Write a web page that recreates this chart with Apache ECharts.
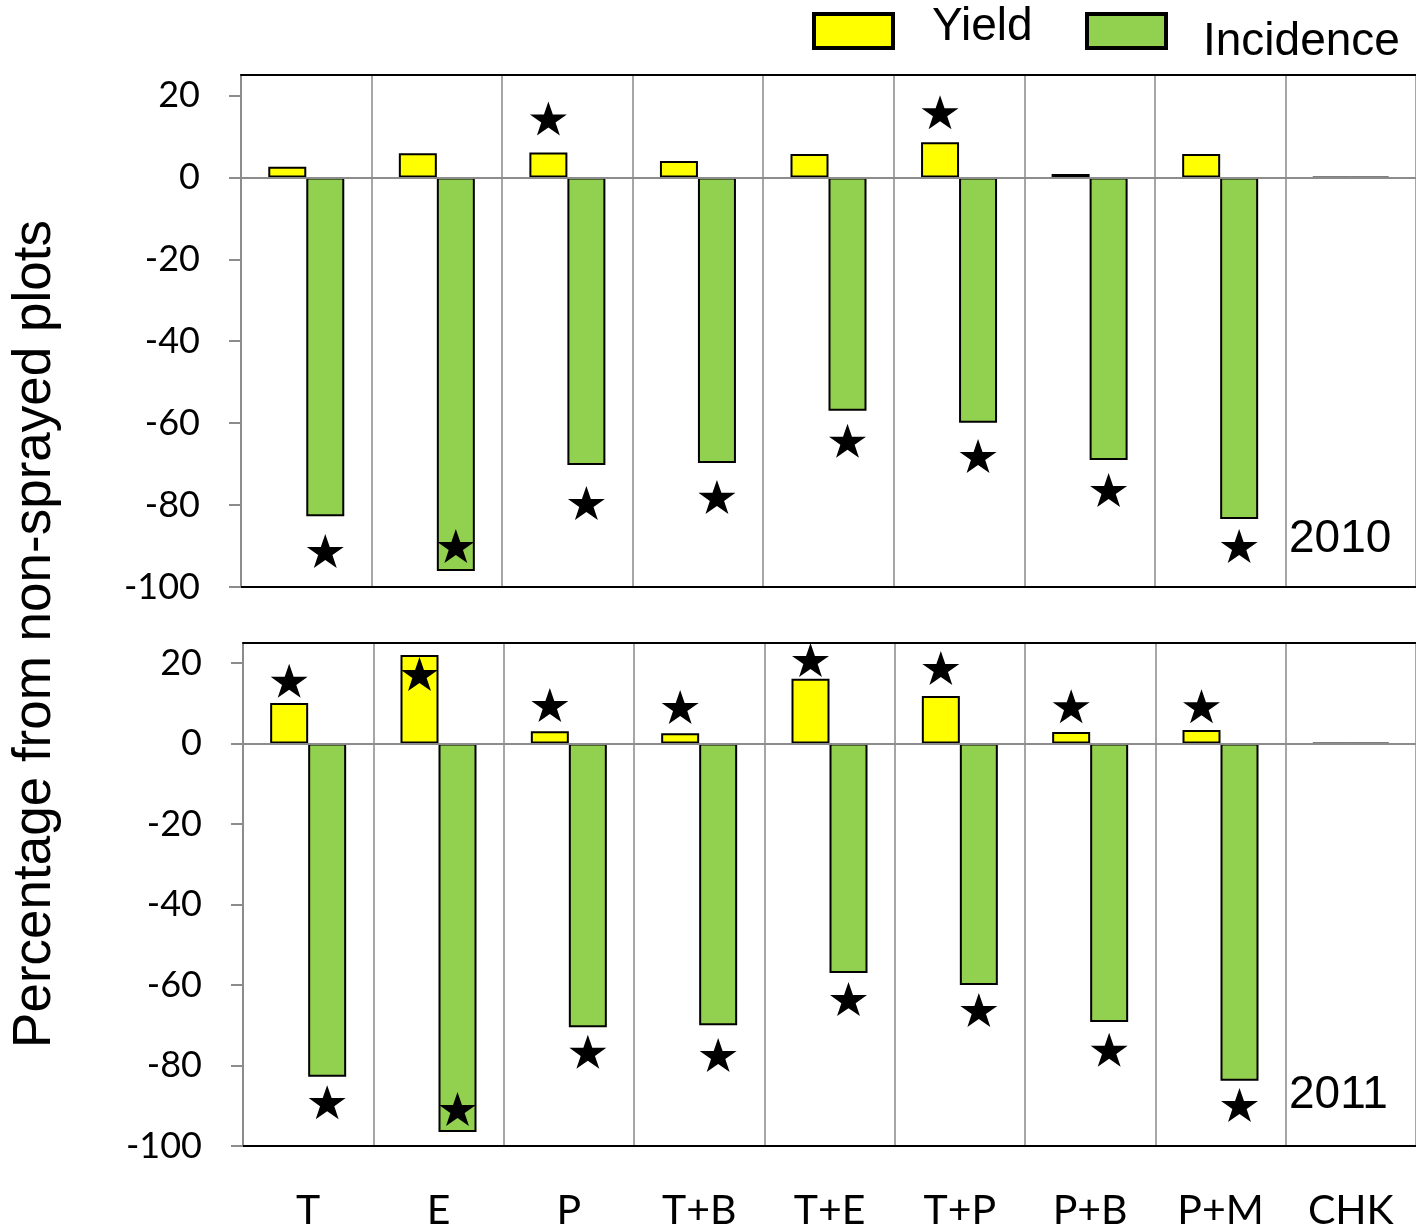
<!DOCTYPE html>
<html>
<head>
<meta charset="utf-8">
<script src="https://cdn.jsdelivr.net/npm/echarts@6/dist/echarts.min.js"></script>
<style>
html, body { margin: 0; padding: 0; background: #fff; }
#chart { width: 1416px; height: 1232px; }
</style>
</head>
<body>
<div id="chart"></div>
<script>
// Treatments (fungicide programmes) and the untreated check
const treatments = ['T', 'E', 'P', 'T+B', 'T+E', 'T+P', 'P+B', 'P+M', 'CHK'];

// 2010 season: % change vs. non-sprayed plots
const yield2010 = [2.6, 5.9, 6.1, 4.0, 5.7, 8.6, 0.8, 5.7, 0];
const incidence2010 = [-82.7, -96.1, -70.2, -69.7, -57.0, -59.9, -69.0, -83.4, 0];
// significance stars (placed at these values, '-' = none)
const yieldStars2010 = ['-', '-', 14.4, '-', '-', 15.9, '-', '-', '-'];
const incidenceStars2010 = [-91.2, -90.0, -79.5, -78.0, -64.3, -68.0, -76.3, -90.0, '-'];

// 2011 season
const yield2011 = [10.1, 22.0, 3.1, 2.6, 16.1, 11.8, 2.9, 3.4, 0];
const incidence2011 = [-82.8, -96.5, -70.5, -70.0, -57.0, -60.0, -69.2, -83.8, 0];
const yieldStars2011 = [15.6, 17.3, 9.6, 9.1, 20.8, 18.8, 9.3, 9.3, '-'];
const incidenceStars2011 = [-89.1, -90.8, -76.6, -77.4, -63.5, -66.2, -76.1, -89.8, '-'];

const yTicks = [-100, -80, -60, -40, -20, 0, 20];

const YELLOW = '#ffff00';
const GREEN = '#92d050';
const GRID_GRAY = '#a6a6a6';
const AXIS_GRAY = '#8c8c8c';
const STAR = 'path://M50,0 L61.8,35.1 L98.9,35.1 L68.9,56.9 L80.3,91.9 L50,70.3 L19.7,91.9 L31.1,56.9 L1.1,35.1 L38.2,35.1 Z';

const chart = echarts.init(document.getElementById('chart'));

function bottomXAxis(gridIndex, showLabels) {
  return {
    type: 'category', gridIndex, data: treatments, position: 'bottom',
    axisLine: { show: true, onZero: false, lineStyle: { color: '#000', width: 2 } },
    axisTick: { show: false },
    splitLine: { show: true, interval: 0, lineStyle: { color: GRID_GRAY, width: 2 } },
    axisLabel: {
      show: showLabels, interval: 0, margin: 44,
      fontFamily: 'Lato', fontSize: 41, color: '#000'
    }
  };
}
function topXAxis(gridIndex) {
  return {
    type: 'category', gridIndex, data: treatments, position: 'top',
    axisLine: { show: true, onZero: false, lineStyle: { color: '#000', width: 2 } },
    axisTick: { show: false }, axisLabel: { show: false }, splitLine: { show: false }
  };
}
function yAxis(gridIndex) {
  return {
    type: 'value', gridIndex, min: -100, max: 25, interval: 20,
    axisLine: { show: true, lineStyle: { color: AXIS_GRAY, width: 2 } },
    axisTick: { show: true, length: 12, customValues: yTicks, lineStyle: { color: AXIS_GRAY, width: 2 } },
    axisLabel: {
      customValues: yTicks, margin: 41,
      fontFamily: 'Lato', fontSize: 36, color: '#000'
    },
    splitLine: { show: false }
  };
}
function barSeries(name, color, data, axisIdx, withZeroLine) {
  const s = {
    name, type: 'bar', xAxisIndex: axisIdx, yAxisIndex: axisIdx,
    data, barWidth: 38, barGap: '0%',
    itemStyle: { color, borderColor: '#000', borderWidth: 2 }
  };
  if (withZeroLine) {
    s.markLine = {
      silent: true, symbol: 'none', label: { show: false },
      lineStyle: { color: AXIS_GRAY, width: 2, type: 'solid' },
      data: [{ yAxis: 0 }]
    };
  }
  return s;
}
function starSeries(data, axisIdx, dx) {
  return {
    type: 'scatter', xAxisIndex: axisIdx, yAxisIndex: axisIdx,
    data, symbol: STAR, symbolSize: [37, 34], symbolOffset: [dx, 0],
    itemStyle: { color: '#000', opacity: 1 }, z: 5, silent: true
  };
}

chart.setOption({
  animation: false,
  backgroundColor: '#fff',
  grid: [
    { left: 241, top: 75, width: 1179, height: 512 },
    { left: 243, top: 643, width: 1179, height: 503 }
  ],
  legend: [
    {
      // name sits on the upper of two short lines, lifting it slightly
      data: ['Yield'], icon: 'rect', left: 812, top: 4, padding: 0,
      itemWidth: 79, itemHeight: 34,
      itemStyle: { borderColor: '#000', borderWidth: 4 },
      formatter: name => name + '\n ',
      textStyle: { fontFamily: 'Liberation Sans', fontSize: 46, lineHeight: 8, color: '#000', padding: [0, 0, 0, 34] },
      selectedMode: false
    },
    {
      // name sits on the lower of two lines, dropping it below the box centre
      data: ['Incidence'], icon: 'rect', left: 1085, top: -3, padding: 0,
      itemWidth: 79, itemHeight: 34,
      itemStyle: { borderColor: '#000', borderWidth: 4 },
      formatter: name => ' \n' + name,
      textStyle: { fontFamily: 'Liberation Sans', fontSize: 46, lineHeight: 22, color: '#000', padding: [0, 0, 0, 32] },
      selectedMode: false
    }
  ],
  xAxis: [bottomXAxis(0, false), bottomXAxis(1, true), topXAxis(0), topXAxis(1)],
  yAxis: [yAxis(0), yAxis(1)],
  series: [
    barSeries('Yield', YELLOW, yield2010, 0, true),
    barSeries('Incidence', GREEN, incidence2010, 0, false),
    starSeries(yieldStars2010, 0, -19),
    starSeries(incidenceStars2010, 0, 19),
    barSeries('Yield', YELLOW, yield2011, 1, true),
    barSeries('Incidence', GREEN, incidence2011, 1, false),
    starSeries(yieldStars2011, 1, -19),
    starSeries(incidenceStars2011, 1, 19)
  ],
  graphic: [
    {
      type: 'text', x: 35, y: 634, rotation: Math.PI / 2,
      style: {
        text: 'Percentage from non-sprayed plots',
        fontFamily: 'Liberation Sans', fontSize: 53, fill: '#000',
        align: 'center', verticalAlign: 'middle'
      }
    },
    {
      type: 'text', x: 1289, y: 539,
      style: { text: '2010', fontFamily: 'Liberation Sans', fontSize: 46, fill: '#000', align: 'left', verticalAlign: 'middle' }
    },
    {
      type: 'text', x: 1289, y: 1095,
      style: { text: '2011', fontFamily: 'Liberation Sans', fontSize: 46, fill: '#000', align: 'left', verticalAlign: 'middle' }
    }
  ]
});
</script>
</body>
</html>
